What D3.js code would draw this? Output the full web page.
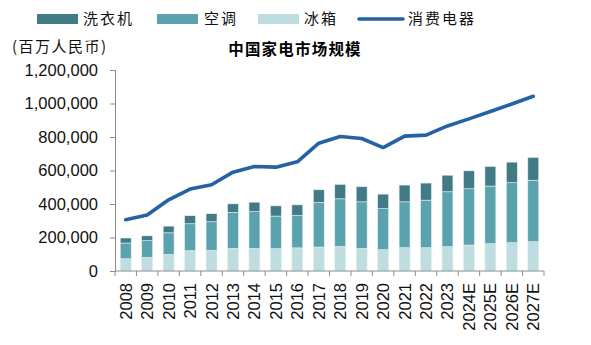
<!DOCTYPE html>
<html>
<head>
<meta charset="utf-8">
<script src="https://cdn.jsdelivr.net/npm/d3@7"></script>
<style>
  body { margin: 0; background: #fff; }
  svg { display: block; }
</style>
</head>
<body>
<svg id="chart" width="591" height="345"></svg>
<script>
// data (unit: million RMB)
var years = ['2008', '2009', '2010', '2011', '2012', '2013', '2014', '2015', '2016', '2017',
  '2018', '2019', '2020', '2021', '2022', '2023', '2024E', '2025E', '2026E', '2027E']
var fridge = [73000, 81000, 99000, 121000, 123000, 135000, 135000, 133000, 138000, 143000,
  147000, 135000, 127000, 139000, 139000, 145000, 155000, 163000, 169000, 175000]
var aircon = [94000, 100000, 129000, 161000, 171000, 215000, 219000, 195000, 193000, 266000,
  284000, 278000, 245000, 274000, 284000, 328000, 336000, 344000, 358000, 367000]
var washer = [30000, 29000, 40000, 48000, 48000, 51000, 57000, 61000, 64000, 76000,
  86000, 90000, 87000, 100000, 102000, 99000, 107000, 117000, 123000, 136000]
var consumer = [306000, 334000, 425000, 489000, 515000, 590000, 624000, 620000, 652000, 763000,
  803000, 791000, 737000, 805000, 811000, 866000, 908000, 952000, 997000, 1043000]
var yTicks = [0, 200000, 400000, 600000, 800000, 1000000, 1200000]

var seriesNames = ['冰箱', '空调', '洗衣机']
var colors = { '洗衣机': '#427b86', '空调': '#5aa3ae', '冰箱': '#bedde1', '消费电器': '#2462a5' }

var svg = d3.select('#chart')
var margin = { left: 115, right: 47, top: 70, bottom: 74 }
var width = 591 - margin.left - margin.right
var height = 345 - margin.top - margin.bottom

var x = d3.scaleBand().domain(years).range([0, width]).paddingInner(0.49).paddingOuter(0.245)
var xb = d3.scaleBand().domain(years).range([0, width])
var y = d3.scaleLinear().domain([0, 1200000]).range([height, 0])

var g = svg.append('g').attr('transform', 'translate(' + margin.left + ',' + margin.top + ')')

var table = years.map(function (yr, i) {
  return { year: yr, '冰箱': fridge[i], '空调': aircon[i], '洗衣机': washer[i] }
})
var stack = d3.stack().keys(seriesNames)(table)

g.selectAll('g.series')
  .data(stack)
  .enter().append('g')
  .attr('class', 'series')
  .attr('fill', function (d) { return colors[d.key] })
  .selectAll('rect')
  .data(function (d) { return d })
  .enter().append('rect')
  .attr('x', function (d) { return x(d.data.year) })
  .attr('width', x.bandwidth())
  .attr('y', function (d) { return y(d[1]) })
  .attr('height', function (d) { return y(d[0]) - y(d[1]) })
  .attr('stroke', '#e6eef0')
  .attr('stroke-width', 0.6)

// line
var line = d3.line()
  .x(function (d, i) { return xb(years[i]) + xb.bandwidth() / 2 })
  .y(function (d) { return y(d) })
g.append('path')
  .datum(consumer)
  .attr('fill', 'none')
  .attr('stroke', colors['消费电器'])
  .attr('stroke-width', 3.6)
  .attr('stroke-linejoin', 'round')
  .attr('stroke-linecap', 'round')
  .attr('d', line)

// y axis
var yAxis = g.append('g')
  .call(d3.axisLeft(y).tickValues(yTicks).tickSize(5).tickPadding(12).tickFormat(d3.format(',')))
yAxis.select('.domain').attr('stroke', '#8c8c8c')
yAxis.selectAll('.tick line').attr('stroke', '#8c8c8c')
yAxis.selectAll('text')
  .attr('font-family', 'Liberation Sans, Arial, sans-serif')
  .attr('font-size', 16.5)
  .attr('fill', '#111')

// x axis, ticks on band edges
var xAxis = g.append('g').attr('transform', 'translate(0,' + height + ')')
xAxis.append('line')
  .attr('x1', 0).attr('x2', width)
  .attr('stroke', '#8c8c8c')
xAxis.selectAll('line.tk')
  .data(years.concat(['end']))
  .enter().append('line')
  .attr('class', 'tk')
  .attr('x1', function (d, i) { return i * xb.step() })
  .attr('x2', function (d, i) { return i * xb.step() })
  .attr('y1', 0).attr('y2', 5)
  .attr('stroke', '#8c8c8c')
xAxis.selectAll('text')
  .data(years)
  .enter().append('text')
  .attr('transform', function (d) {
    return 'translate(' + (xb(d) + xb.bandwidth() / 2 + 6) + ',12) rotate(-90)'
  })
  .attr('text-anchor', 'end')
  .attr('font-family', 'Liberation Sans, Arial, sans-serif')
  .attr('font-size', 16.5)
  .attr('fill', '#111')
  .text(function (d) { return d })

// legend
var cjk = 'Noto Sans CJK SC, sans-serif'
var legend = [
  { name: '洗衣机', sx: 37, tx: 83 },
  { name: '空调', sx: 157, tx: 204 },
  { name: '冰箱', sx: 258, tx: 304 },
  { name: '消费电器', sx: 359, tx: 408, line: true }
]
legend.forEach(function (l) {
  if (l.line) {
    svg.append('line')
      .attr('x1', l.sx).attr('x2', l.sx + 44)
      .attr('y1', 19).attr('y2', 19)
      .attr('stroke', colors[l.name]).attr('stroke-width', 3.6)
      .attr('stroke-linecap', 'round')
  } else {
    svg.append('rect')
      .attr('x', l.sx).attr('y', 14)
      .attr('width', 41).attr('height', 10)
      .attr('fill', colors[l.name])
  }
  svg.append('text')
    .attr('x', l.tx).attr('y', 24)
    .attr('font-family', cjk)
    .attr('font-size', 15)
    .attr('letter-spacing', 2)
    .attr('fill', '#111')
    .text(l.name)
})

svg.append('text')
  .attr('x', 12).attr('y', 52)
  .attr('font-family', cjk)
  .attr('font-size', 15)
  .attr('letter-spacing', 1.5)
  .attr('fill', '#111')
  .text('(百万人民币)')

svg.append('text')
  .attr('x', 295).attr('y', 55)
  .attr('text-anchor', 'middle')
  .attr('font-family', cjk)
  .attr('font-size', 15.5)
  .attr('font-weight', 'bold')
  .attr('letter-spacing', 1.2)
  .attr('fill', '#000')
  .text('中国家电市场规模')
</script>
</body>
</html>
